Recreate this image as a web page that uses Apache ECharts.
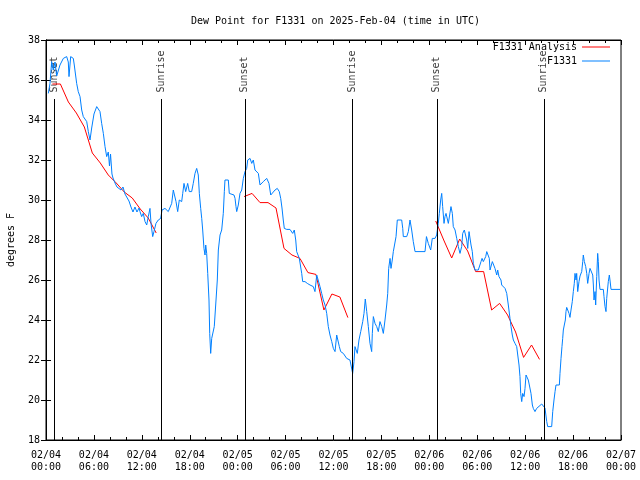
<!DOCTYPE html>
<html><head><meta charset="utf-8">
<script src="https://cdn.jsdelivr.net/npm/echarts@6/dist/echarts.min.js"></script>
<style>html,body{margin:0;padding:0;background:#fff}#c{width:640px;height:480px}</style>
</head><body><div id="c"></div>
<script>
const titleText = 'Dew Point for F1331 on 2025-Feb-04 (time in UTC)';
const yAxisName = 'degrees F';
const dayLabels = ['02/04', '02/05', '02/06', '02/07'];
const hourLabels = ['00:00', '06:00', '12:00', '18:00'];

// Sunset / sunrise times (hours after 02/04 00:00 UTC)
const eventHours = [1.08, 14.46, 24.96, 38.38, 49.0, 62.4];
const eventNames = ['Sunset', 'Sunrise', 'Sunset', 'Sunrise', 'Sunset', 'Sunrise'];

// Analysis (red), three segments
const anaHours1 = [0.8, 1.8, 2.8, 3.8, 4.8, 5.8, 6.8, 7.8, 8.8, 9.8, 10.8, 11.8, 12.8, 13.8];
const anaVals1  = [35.8, 35.8, 34.9, 34.35, 33.65, 32.35, 31.85, 31.25, 30.85, 30.4, 30.1, 29.55, 29.1, 28.35];
const anaHours2 = [24.8, 25.8, 26.8, 27.8, 28.8, 29.8, 30.8, 31.8, 32.8, 33.8, 34.8, 35.8, 36.8, 37.8];
const anaVals2  = [30.17, 30.33, 29.87, 29.87, 29.6, 27.58, 27.25, 27.08, 26.37, 26.28, 24.5, 25.3, 25.15, 24.12];
const anaHours3 = [48.8, 49.8, 50.8, 51.8, 52.8, 53.8, 54.8, 55.8, 56.8, 57.8, 58.8, 59.8, 60.8, 61.8];
const anaVals3  = [28.95, 28.0, 27.1, 28.05, 27.45, 26.42, 26.42, 24.5, 24.83, 24.25, 23.4, 22.13, 22.75, 22.03];

// Observations (blue)
const obsHours = [0.29,0.50,0.71,0.91,1.13,1.34,1.75,2.17,2.59,2.79,2.88,3.09,3.42,3.54,3.84,4.04,4.26,4.47,4.67,5.10,5.30,5.51,5.72,6.01,6.35,6.55,6.76,6.97,7.18,7.39,7.60,7.80,7.95,8.08,8.26,8.39,8.64,8.89,9.14,9.39,9.64,9.89,10.14,10.39,10.64,10.89,11.14,11.39,11.65,
11.77,11.98,12.18,12.40,12.61,12.81,13.02,13.15,13.36,13.52,13.77,14.06,14.36,14.53,14.90,15.11,15.31,15.74,15.94,16.15,16.28,16.49,16.69,16.99,17.12,17.28,17.49,17.74,17.94,18.24,18.44,18.66,18.87,19.07,19.20,19.37,19.50,19.62,19.78,19.91,20.00,20.12,20.25,20.41,20.50,20.62,20.75,20.95,21.07,21.29,21.45,21.58,21.79,22.00,22.20,22.33,22.41,22.83,22.95,23.13,23.54,23.67,23.79,23.88,24.08,24.29,24.51,24.71,24.92,25.13,25.26,25.55,25.76,25.96,26.17,26.38,26.59,26.80,27.01,27.21,27.64,27.92,28.14,28.39,28.68,28.96,29.21,29.39,29.55,29.71,29.84,30.14,30.55,30.77,30.89,31.09,31.27,31.39,31.59,31.72,32.02,32.14,32.43,32.72,33.06,33.47,33.68,33.90,34.10,34.31,34.52,34.72,34.94,35.15,35.35,35.56,35.78,35.98,36.19,36.40,36.60,36.73,36.90,37.23,37.44,37.65,37.85,38.06,38.28,38.40,38.57,38.69,38.98,39.19,39.41,39.66,39.82,39.98,40.16,40.36,40.57,40.78,40.86,40.99,41.20,41.41,41.61,41.82,42.04,42.24,42.45,42.66,42.79,42.91,43.08,43.20,43.36,43.49,43.70,43.83,43.99,44.54,44.67,44.74,45.17,45.37,45.58,45.79,45.99,46.21,47.46,47.64,47.87,48.17,48.37,48.71,48.92,49.12,49.25,49.42,49.55,49.67,49.84,49.96,50.09,50.25,50.38,50.71,50.88,51.00,51.22,51.43,51.63,51.84,52.05,52.18,52.38,52.56,52.68,52.81,52.97,53.09,53.22,53.38,53.51,53.72,53.93,54.13,54.35,54.47,54.60,54.76,54.89,55.06,55.19,55.39,55.51,55.60,55.89,56.10,56.22,56.44,56.56,56.72,56.97,57.06,57.26,57.48,57.69,57.89,58.10,58.23,58.39,58.52,58.73,58.94,59.07,59.23,59.35,59.44,59.57,59.69,59.86,59.98,60.11,60.27,60.39,60.52,60.61,60.73,60.90,61.02,61.23,61.44,61.65,62.07,62.27,62.48,62.70,62.82,63.32,63.45,63.61,63.74,63.86,64.28,64.36,64.49,64.61,64.70,64.78,64.90,65.03,65.11,65.20,65.33,65.49,65.61,65.74,65.90,66.03,66.15,66.24,66.37,66.45,66.58,66.74,66.87,67.08,67.21,67.28,67.41,67.58,67.71,67.83,68.00,68.12,68.33,68.46,68.54,68.62,68.75,68.83,68.96,69.08,69.16,69.25,69.37,69.79,69.87,70.00,70.12,70.21,70.41,70.54,70.62,70.75,71.88];
const obsValues = [35.33,35.83,36.92,36.5,36.9,36.2,36.75,37.08,37.17,36.9,36.17,37.17,37.08,36.75,35.83,35.42,35.17,34.5,34.17,33.92,33.42,33.0,33.6,34.3,34.67,34.75,34.42,33.83,33.33,32.67,32.17,32.4,31.7,32.3,31.3,31.1,30.85,30.65,30.75,30.5,30.65,30.3,30.2,29.95,29.65,29.4,29.65,29.4,29.6,
29.42,29.17,29.33,28.92,28.75,29.17,29.58,28.83,28.17,28.42,28.83,29.0,29.08,29.5,29.58,29.67,29.42,29.83,30.5,30.42,29.92,29.42,30.0,29.92,30.33,30.83,30.42,30.83,30.42,30.42,30.83,31.33,31.58,31.25,30.33,29.58,29.08,28.5,27.58,27.25,27.75,27.33,26.33,25.0,23.33,22.33,23.08,23.08,23.67,25.0,26.0,27.5,28.25,28.5,29.33,30.42,31.0,31.0,30.33,30.25,30.25,30.08,29.67,29.42,29.75,30.33,30.5,31.08,31.42,31.58,32.0,32.08,31.83,32.0,31.5,31.58,31.33,30.75,30.83,30.92,31.08,30.83,30.25,30.25,30.5,30.58,30.42,30.08,29.6,29.0,28.58,28.53,28.53,28.5,28.33,28.5,28.0,27.42,27.33,27.08,26.33,25.92,25.92,25.83,25.75,25.67,25.42,26.25,26.17,25.67,25.33,25.0,24.75,24.33,23.67,23.25,22.92,22.58,22.42,23.25,23.17,22.67,22.42,22.33,22.25,22.08,22.17,22.0,21.92,21.33,21.92,22.67,22.33,23.0,23.42,23.92,24.33,25.05,24.42,23.67,22.83,22.42,23.33,24.17,23.83,23.67,23.42,23.92,23.67,23.33,24.0,24.75,25.33,26.58,27.08,26.58,27.0,27.42,27.42,28.17,29.0,29.0,28.58,28.17,28.17,28.42,29.0,28.5,27.92,27.42,27.42,28.17,27.83,27.5,28.08,28.08,28.25,28.83,29.33,30.0,30.33,29.67,28.83,29.17,29.33,29.33,28.83,29.67,29.33,28.67,28.5,28.08,27.67,27.33,27.67,28.33,28.5,28.42,28.0,27.58,28.42,28.33,27.75,27.42,26.83,26.5,26.58,26.5,26.58,26.92,27.08,26.92,27.0,27.17,27.42,27.42,27.08,26.5,26.92,26.92,26.58,26.25,26.5,26.17,26.0,25.75,25.67,25.58,25.33,24.75,24.08,23.67,23.25,23.0,22.83,22.67,22.25,21.75,21.17,20.33,19.92,20.33,20.17,20.58,21.25,21.25,21.0,20.75,20.67,20.33,19.75,19.58,19.42,19.58,19.67,19.8,19.7,19.6,18.92,18.67,18.67,19.42,20.0,20.42,20.75,20.75,21.33,22.08,22.67,23.08,23.5,23.75,24.0,24.42,24.63,24.5,24.33,24.13,24.5,24.92,25.42,25.83,26.33,26.0,26.33,25.42,25.92,26.2,26.42,26.92,27.25,26.92,26.67,26.33,25.83,26.33,26.58,26.58,26.25,25.75,25.0,25.42,24.75,26.17,27.33,26.92,26.0,25.53,25.53,25.17,24.67,24.42,25.08,25.92,26.25,26.0,25.53,25.53];

const FONT = 'DejaVu Sans Mono';
const zip = (h, v) => h.map((x, i) => [x, v[i]]);
const analysisData = zip(anaHours1, anaVals1).concat([[19, null]], zip(anaHours2, anaVals2), [[43, null]], zip(anaHours3, anaVals3));
const obsData = zip(obsHours, obsValues);

const xLabel = v => dayLabels[Math.floor(v / 24)] + '\n' + hourLabels[Math.round((v % 24) / 6)];

const baseX = {
  type: 'value', min: 0, max: 72, interval: 6,
  axisLine: { show: true, lineStyle: { color: '#000', width: 1 } },
  axisTick: { show: true, inside: true, length: 5, lineStyle: { color: '#000' } },
  minorTick: { show: true, splitNumber: 3, length: 3, lineStyle: { color: '#000' } },
  splitLine: { show: false }, minorSplitLine: { show: false }
};
const baseY = {
  type: 'value', min: 18, max: 38, interval: 2,
  axisLine: { show: true, lineStyle: { color: '#000', width: 1 } },
  axisTick: { show: true, inside: true, length: 5, lineStyle: { color: '#000' } },
  splitLine: { show: false }
};
const legendBase = { right: 30, align: 'right', icon: 'rect', itemWidth: 28, itemHeight: 1, selectedMode: false, padding: 0, textStyle: { fontFamily: FONT, fontSize: 10, color: '#000' } };

const chart = echarts.init(document.getElementById('c'), null, { renderer: 'canvas' });
chart.setOption({
  animation: false,
  backgroundColor: '#fff',
  title: { text: titleText, left: 186, top: 11, textStyle: { fontFamily: FONT, fontSize: 10, fontWeight: 'normal', color: '#000' } },
  grid: { left: 46, right: 19, top: 40, bottom: 40, show: true, borderColor: '#000', borderWidth: 1, containLabel: false, outerBoundsMode: 'none' },
  legend: [
    Object.assign({}, legendBase, { data: ['F1331 Analysis'], top: 42 }),
    Object.assign({}, legendBase, { data: ['F1331'], top: 56 })
  ],
  xAxis: [
    Object.assign({}, baseX, { position: 'bottom', axisLabel: { formatter: xLabel, fontFamily: FONT, fontSize: 10, color: '#000', lineHeight: 12, margin: 9 } }),
    Object.assign({}, baseX, { position: 'top', axisLabel: { show: false } })
  ],
  yAxis: [
    Object.assign({}, baseY, { position: 'left', name: yAxisName, nameLocation: 'middle', nameGap: 30, nameTextStyle: { fontFamily: FONT, fontSize: 10, color: '#000' }, axisLabel: { fontFamily: FONT, fontSize: 10, color: '#000', margin: 6 } }),
    Object.assign({}, baseY, { position: 'right', axisLabel: { show: false } })
  ],
  series: [
    {
      name: 'F1331 Analysis', type: 'line', data: analysisData, symbol: 'none', connectNulls: false,
      color: '#ff0000', lineStyle: { color: '#ff0000', width: 1 },
      markLine: {
        silent: true, symbol: ['none', 'none'], label: { show: false },
        lineStyle: { color: '#000', width: 1, type: 'solid' },
        emphasis: { disabled: true },
        data: eventHours.map(h => [{ coord: [h, 18] }, { coord: [h, 35.05] }])
      }
    },
    {
      name: 'F1331', type: 'line', data: obsData, symbol: 'none',
      color: '#0080ff', lineStyle: { color: '#0080ff', width: 1 }
    },
    {
      name: 'events', type: 'scatter', silent: true, symbolSize: 1,
      itemStyle: { color: 'rgba(0,0,0,0)' },
      data: eventHours.map((h, i) => [h, 35.35, eventNames[i]]),
      label: { show: true, formatter: p => p.data[2], position: [0, 0], rotate: 90, align: 'left', verticalAlign: 'middle', fontFamily: FONT, fontSize: 10, color: '#000' }
    }
  ]
});
</script></body></html>
